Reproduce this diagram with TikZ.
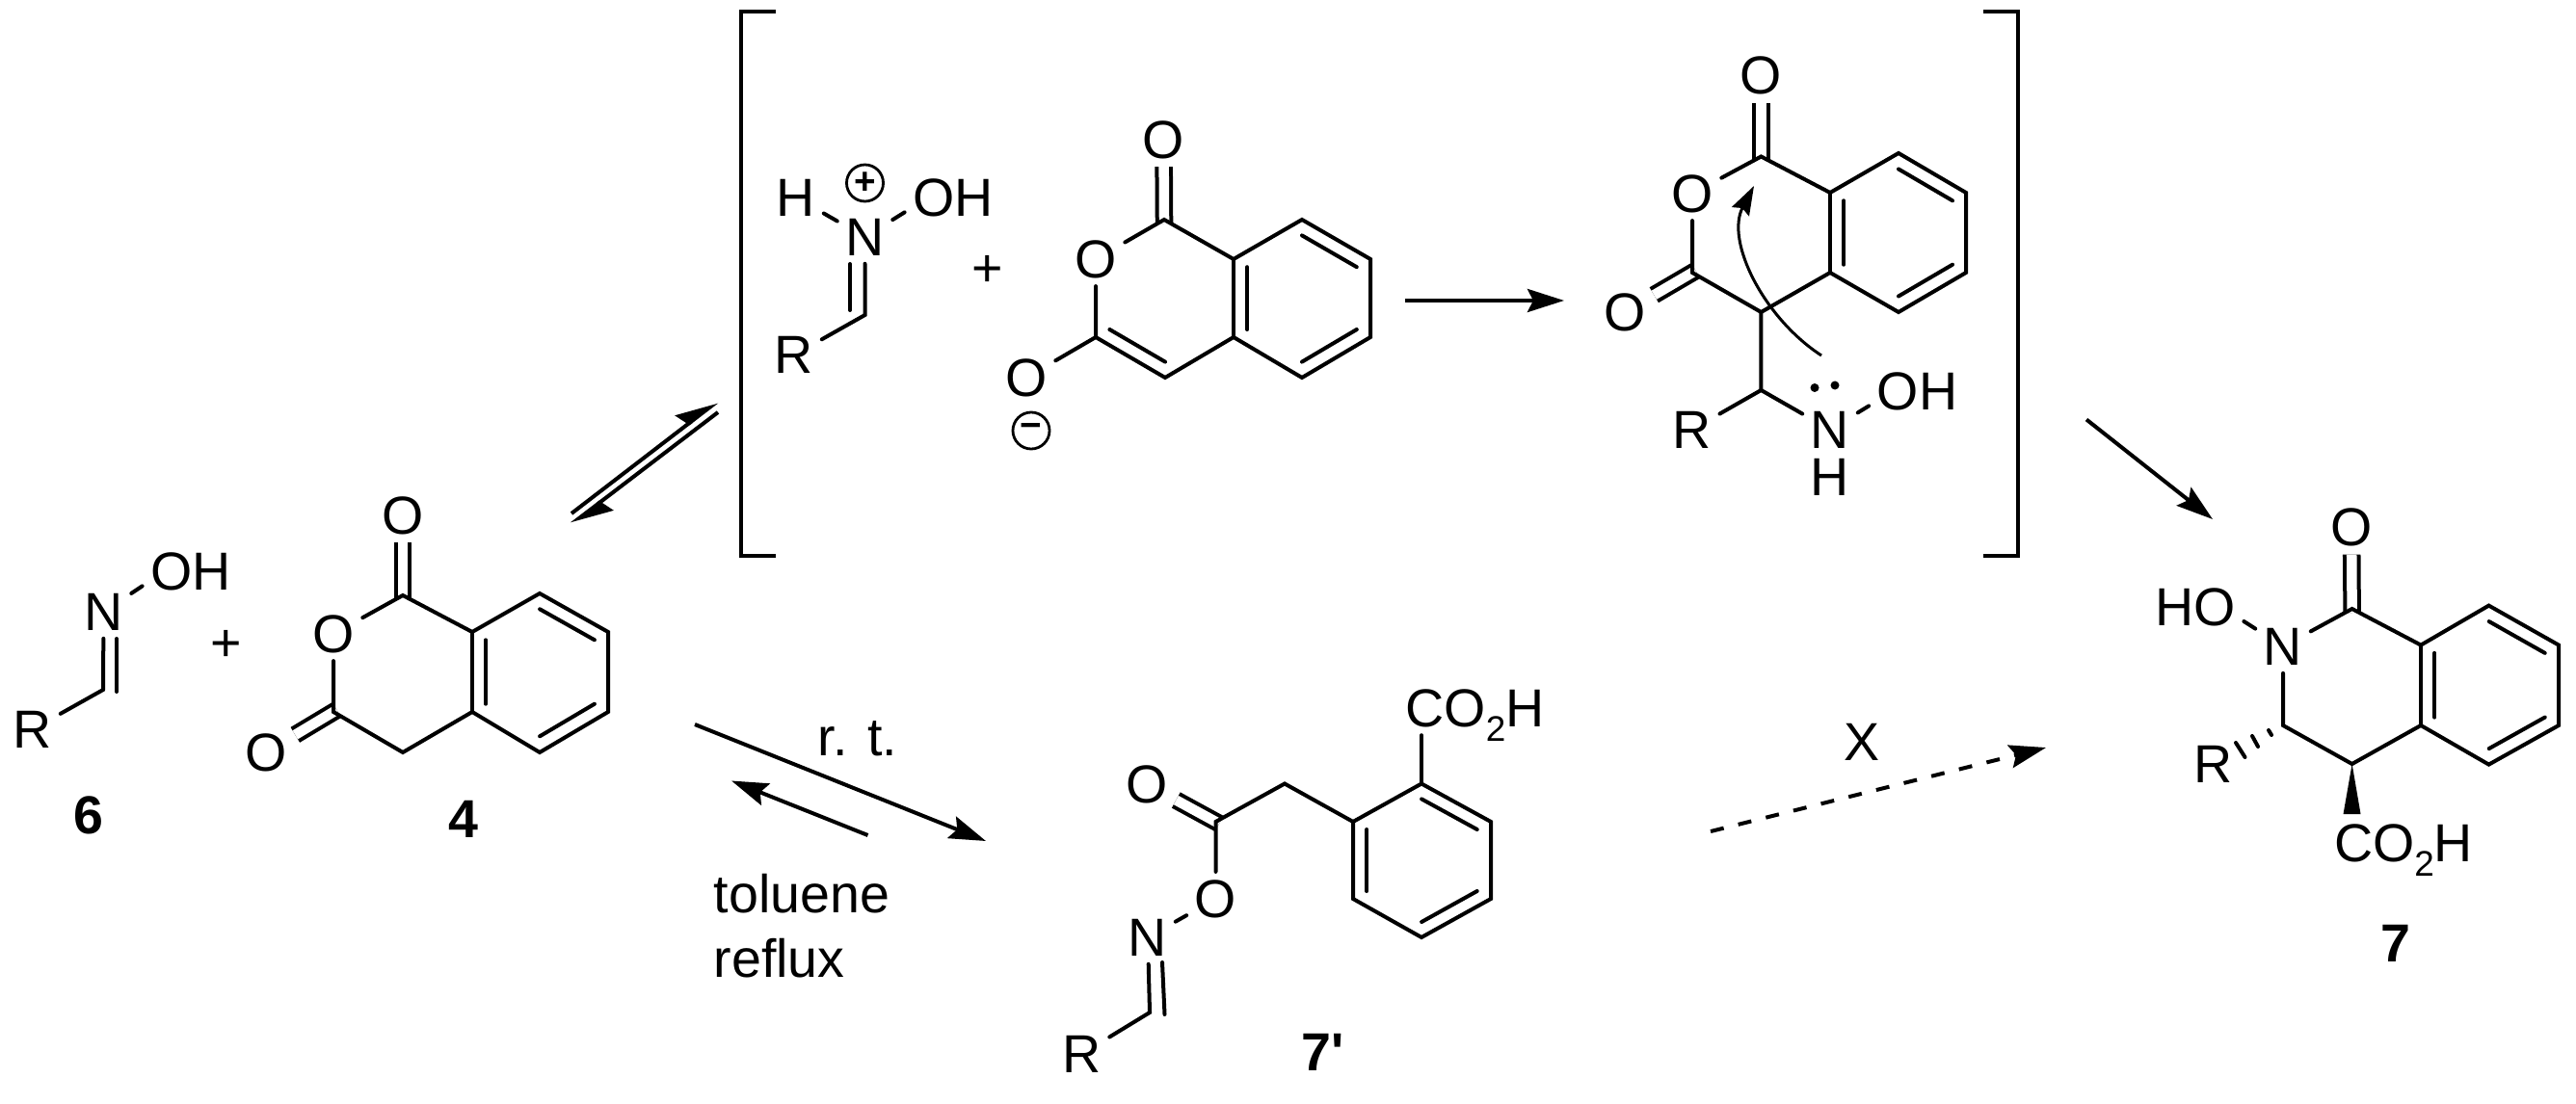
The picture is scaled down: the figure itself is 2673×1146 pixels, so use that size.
\documentclass[tikz,border=0pt]{standalone}
\usepackage{fontspec}
\setmainfont{Liberation Sans}
\usetikzlibrary{arrows.meta,calc}

\newcommand{\cotwoh}{CO\raisebox{-.27em}{\fontsize{10.5}{10.5}\selectfont 2}H}
\newcommand{\innerbond}[3]{\draw[bond] ($(#1)!.2!(#3)$) -- ($(#2)!.2!(#3)$);}

\begin{document}
\begin{tikzpicture}[x=.01cm,y=-.01cm,
  >={Stealth[length=3.8mm,width=2.4mm,inset=.6mm]},
  font=\fontsize{15.8}{18}\selectfont,
  bond/.style={line width=.04cm,line cap=round,line join=miter},
  dbl/.style={bond,line cap=butt,double,double distance=.105cm,shorten <=-.04cm},
  rxn/.style={line width=.04cm,->},
  half up/.style={line width=.04cm,-{Stealth[length=3.8mm,width=3mm,inset=.5mm,left]}},
  bracket/.style={line width=.04cm,line join=miter},
  atom/.style={inner sep=.08cm,text depth=0pt},
  group/.style={atom,anchor=base},
  cpd/.style={inner sep=0pt,font=\fontsize{15.8}{18}\selectfont\bfseries},
  charge/.style={circle,draw,line width=.028cm,inner sep=0pt,minimum size=.38cm,
    font=\fontsize{11}{11}\selectfont\bfseries},
  pairdot/.style={circle,fill,inner sep=0pt,minimum size=.09cm}]

  \useasboundingbox (0,0) rectangle (2673,1146);

  % compound 6
  \node[atom] (n6) at (107.5,635) {N};
  \node[atom] (oh6) at (198,593) {OH};
  \node[atom] (r6) at (34,757) {R};
  \coordinate (c6) at (107,716);
  \coordinate (c6b) at (121,718);
  \coordinate (n6b) at (121,663);
  \draw[bond] (n6) -- (c6) -- (r6);
  \draw[bond] (n6b) -- (c6b);
  \draw[bond] (n6) -- (oh6.197);
  \node (plusa) at (235,670) {+};
  \node[cpd] (six) at (92,846) {6};

  % compound 4
  \node[atom] (oa4) at (418,535) {O};
  \node[atom] (ob4) at (346,658) {O};
  \node[atom] (oc4) at (276,781) {O};
  \coordinate (c1) at (418,618);
  \coordinate (c3) at (346,739);
  \coordinate (c4) at (418,781);
  \coordinate (f1) at (490,656);
  \coordinate (f2) at (490,739);
  \coordinate (b1) at (560,616);
  \coordinate (b2) at (631,656);
  \coordinate (b3) at (631,739);
  \coordinate (b4) at (560,781);
  \coordinate (bc) at (560.5,697.5);
  \draw[dbl] (c1) -- (oa4);
  \draw[dbl] (c3) -- (oc4);
  \draw[bond] (ob4) -- (c1) -- (f1) -- (b1) -- (b2) -- (b3) -- (b4) -- (f2) -- (c4) -- (c3) -- (ob4);
  \draw[bond] (f1) -- (f2);
  \innerbond{f1}{f2}{bc}
  \innerbond{b1}{b2}{bc}
  \innerbond{b3}{b4}{bc}
  \node[cpd] (four) at (481,850) {4};

  % bracket and the two species inside
  \draw[bracket] (805,12) -- (769,12) -- (769,577) -- (805,577);
  \draw[bracket] (2058,12) -- (2094,12) -- (2094,577) -- (2058,577);

  \node[atom] (h5) at (826,205) {H};
  \node[atom] (n5) at (897.5,246) {N};
  \node[atom] (oh5) at (989,205) {OH};
  \node[atom] (r5) at (824,368.5) {R};
  \node[charge] (pos) at (897.5,190) {+};
  \coordinate (c5) at (897.5,327);
  \coordinate (c5b) at (882,322);
  \coordinate (n5b) at (882,274);
  \draw[bond] (n5) -- (c5) -- (r5);
  \draw[bond] (n5b) -- (c5b);
  \draw[bond] (h5) -- (n5);
  \draw[bond] (n5) -- (oh5.197);
  \node (plusb) at (1025,281) {+};

  \node[atom] (oa8) at (1207.5,145) {O};
  \node[atom] (ob8) at (1137,269) {O};
  \node[atom] (oc8) at (1065,392) {O};
  \node[charge] (neg) at (1070,447) {\textminus};
  \coordinate (d1) at (1208,228);
  \coordinate (d3) at (1137,350);
  \coordinate (d4) at (1209,392);
  \coordinate (g1) at (1280,269);
  \coordinate (g2) at (1280,350);
  \coordinate (e1) at (1351,228);
  \coordinate (e2) at (1422,269);
  \coordinate (e3) at (1422,350);
  \coordinate (e4) at (1351,392);
  \coordinate (ec) at (1351,310);
  \coordinate (dc) at (1209,310);
  \draw[dbl] (d1) -- (oa8);
  \draw[bond] (ob8) -- (d1) -- (g1) -- (e1) -- (e2) -- (e3) -- (e4) -- (g2) -- (d4) -- (d3) -- (ob8);
  \draw[bond] (g1) -- (g2);
  \draw[bond] (d3) -- (oc8);
  \innerbond{d3}{d4}{dc}
  \innerbond{g1}{g2}{ec}
  \innerbond{e1}{e2}{ec}
  \innerbond{e3}{e4}{ec}

  \coordinate (ra) at (1457.5,312);
  \coordinate (rb) at (1623,312);
  \draw[rxn] (ra) -- (rb);

  \node[atom] (oa9) at (1827.4,78.5) {O};
  \node[atom] (ob9) at (1756,201) {O};
  \node[atom] (oc9) at (1686,324) {O};
  \node[atom] (r9) at (1755.7,446) {R};
  \node[atom] (n9) at (1899,446) {N};
  \node[atom] (h9) at (1899,495) {H};
  \node[atom] (oh9) at (1989.5,406) {OH};
  \node[pairdot] (lpa) at (1883,402.5) {};
  \node[pairdot] (lpb) at (1904,400) {};
  \coordinate (k1) at (1827.4,162.5);
  \coordinate (k3) at (1756,283);
  \coordinate (k4) at (1827.4,324);
  \coordinate (k5) at (1827.4,405);
  \coordinate (m1) at (1899,200);
  \coordinate (m2) at (1899,283);
  \coordinate (p1) at (1970,159);
  \coordinate (p2) at (2040,200);
  \coordinate (p3) at (2040,283);
  \coordinate (p4) at (1970,324);
  \coordinate (pc) at (1970,241.5);
  \draw[dbl] (k1) -- (oa9);
  \draw[dbl] (k3) -- (oc9);
  \draw[bond] (ob9) -- (k1) -- (m1) -- (p1) -- (p2) -- (p3) -- (p4) -- (m2) -- (k4) -- (k3) -- (ob9);
  \draw[bond] (m1) -- (m2);
  \draw[bond] (k4) -- (k5) -- (r9);
  \draw[bond] (k5) -- (n9);
  \draw[bond] (n9) -- (oh9.197);
  \innerbond{m1}{m2}{pc}
  \innerbond{p1}{p2}{pc}
  \innerbond{p3}{p4}{pc}
  \coordinate (cua) at (1890,369);
  \coordinate (cub) at (1820,193);
  \draw[line width=.03cm,-{Stealth[length=3mm,width=2mm,inset=.4mm]}]
    (cua) .. controls (1830,330) and (1790,250) .. (cub);

  % equilibrium to the bracket
  \coordinate (upa) at (593,533);
  \coordinate (upb) at (744,417);
  \coordinate (dna) at (745,428);
  \coordinate (dnb) at (593,544);
  \draw[half up] (upa) -- (upb);
  \draw[half up] (dna) -- (dnb);

  % compound 7'
  \coordinate (la) at (721,752);
  \coordinate (lb) at (1023,873);
  \coordinate (lc) at (900.5,867);
  \coordinate (ld) at (759,810.5);
  \draw[rxn] (la) -- (lb);
  \draw[rxn] (lc) -- (ld);
  \node (rt) at (890,767) {r. t.};
  \node[inner sep=0pt,anchor=base west] (tol) at (740,947) {toluene};
  \node[inner sep=0pt,anchor=base west] (ref) at (740,1014) {reflux};

  \node[group] (co7p) at (1530.5,754.5) {\cotwoh};
  \node[atom] (oa7p) at (1190,814) {O};
  \node[atom] (ob7p) at (1261.5,933) {O};
  \node[atom] (n7p) at (1191,973) {N};
  \node[atom] (r7p) at (1122.5,1094) {R};
  \coordinate (q1) at (1475,813.5);
  \coordinate (q2) at (1547,853);
  \coordinate (q3) at (1547,933);
  \coordinate (q4) at (1475,973);
  \coordinate (q5) at (1404,933);
  \coordinate (q6) at (1404,853);
  \coordinate (qc) at (1475.5,893);
  \coordinate (ch7p) at (1333,813.5);
  \coordinate (cc7p) at (1261.5,853);
  \coordinate (cn7p) at (1193,1051);
  \coordinate (cn7q) at (1208.5,1053);
  \coordinate (nn7q) at (1206,999);
  \draw[dbl] (cc7p) -- (oa7p);
  \draw[bond] (q1) -- (q2) -- (q3) -- (q4) -- (q5) -- (q6) -- (q1);
  \draw[bond] (q6) -- (ch7p) -- (cc7p) -- (ob7p);
  \draw[bond] (q1) -- (q1 |- co7p.south);
  \draw[bond] (ob7p) -- (n7p);
  \draw[bond] (n7p) -- (cn7p) -- (r7p);
  \draw[bond] (nn7q) -- (cn7q);
  \innerbond{q1}{q2}{qc}
  \innerbond{q3}{q4}{qc}
  \innerbond{q5}{q6}{qc}
  \node[cpd] (sevenp) at (1373,1092) {7\textquotesingle};

  \coordinate (xa) at (1775,863);
  \coordinate (xb) at (2123,776);
  \draw[rxn,dash pattern=on .14cm off .155cm] (xa) -- (xb);
  \node (xlab) at (1932,770) {X};

  % compound 7
  \coordinate (sa) at (2165,435.5);
  \coordinate (sb) at (2296,539);
  \draw[rxn] (sa) -- (sb);

  \node[atom] (oa7) at (2440,547.5) {O};
  \node[atom] (n7) at (2369,671) {N};
  \node[atom] (ho7) at (2278,629.6) {HO};
  \node[atom] (r7) at (2297,793.6) {R};
  \node[group] (co7) at (2494,894.6) {\cotwoh};
  \coordinate (s1) at (2440.6,632);
  \coordinate (s3) at (2369,753);
  \coordinate (s4) at (2440.6,793);
  \coordinate (t1) at (2512,669.6);
  \coordinate (t2) at (2512,753);
  \coordinate (u1) at (2582.5,628.6);
  \coordinate (u2) at (2655,669.6);
  \coordinate (u3) at (2655,753);
  \coordinate (u4) at (2582.5,793.6);
  \coordinate (uc) at (2583.5,711);
  \coordinate (wa) at (2431.5,845);
  \coordinate (wb) at (2449.5,845);
  \draw[dbl] (s1) -- (oa7);
  \draw[bond] (n7) -- (s1) -- (t1) -- (u1) -- (u2) -- (u3) -- (u4) -- (t2) -- (s4) -- (s3) -- (n7);
  \draw[bond] (t1) -- (t2);
  \draw[bond] (n7) -- (ho7.343);
  \fill (s4) -- (wb) -- (wa) -- cycle;
  \foreach \ax/\ay/\bx/\by in {2354/758/2357/763,2337/764/2343/775,2320/771/2329.5/786}
    \draw[bond] (\ax,\ay) -- (\bx,\by);
  \innerbond{t1}{t2}{uc}
  \innerbond{u1}{u2}{uc}
  \innerbond{u3}{u4}{uc}
  \node[cpd] (seven) at (2485.6,979) {7};
\end{tikzpicture}
\end{document}
